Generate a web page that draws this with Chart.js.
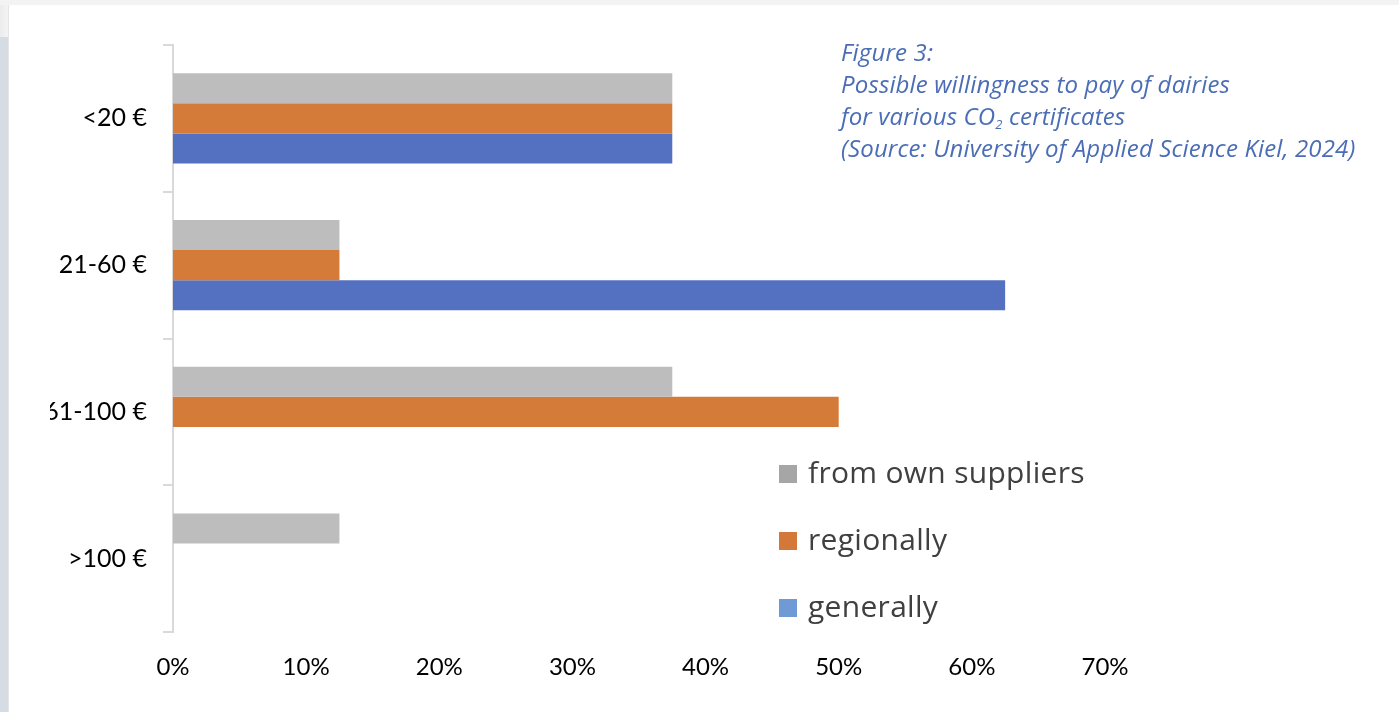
<!DOCTYPE html>
<html>
<head>
<meta charset="utf-8">
<script src="https://cdn.jsdelivr.net/npm/chart.js"></script>
<style>
  html, body { margin: 0; padding: 0; background: #fff; }
  body { width: 1399px; height: 712px; position: relative; overflow: hidden; }
  #topStrip { position: absolute; left: 0; top: 0; width: 1399px; height: 5px; background: #f3f3f3; }
  #leftTop { position: absolute; left: 0; top: 5px; width: 8px; height: 32px; background: linear-gradient(to right, #ececec, #f3f3f3); }
  #leftStrip { position: absolute; left: 0; top: 37px; width: 8px; height: 675px; background: #d6dce3; }
  #panelEdge { position: absolute; left: 8px; top: 5px; width: 1px; height: 707px; background: #e4e4e4; }
  #wrap { position: absolute; left: 50px; top: 0; width: 1115px; height: 712px; }
  #caption {
    position: absolute; left: 841px; top: 36px;
    font-family: "Open Sans", sans-serif; font-style: italic;
    font-size: 24px; letter-spacing: 0.15px; line-height: 32px; color: #4a6db5; white-space: nowrap;
  }
  #caption sub { font-size: 13px; vertical-align: -4px; line-height: 0; }
  #legend { position: absolute; left: 779px; top: 451px; font-family: "Open Sans", sans-serif; }
  .item { height: 67px; display: flex; align-items: flex-start; }
  .box { width: 18px; height: 18px; margin-top: 14px; margin-right: 11px; }
  .lbl { font-size: 30px; letter-spacing: 0.3px; color: #404040; line-height: 42px; }
</style>
</head>
<body>
<div id="topStrip"></div>
<div id="leftTop"></div>
<div id="leftStrip"></div>
<div id="panelEdge"></div>
<div id="wrap"><canvas id="myChart"></canvas></div>
<div id="caption">Figure 3:<br>Possible willingness to pay of dairies<br>for various CO<sub>2</sub> certificates<br>(Source: University of Applied Science Kiel, 2024)</div>
<div id="legend"></div>
<script>
const categories = ["<20 €", "21-60 €", "61-100 €", ">100 €"];
const seriesNames = ["from own suppliers", "regionally", "generally"];
const ownSuppliers = [37.5, 12.5, 37.5, 12.5];
const regionally = [37.5, 12.5, 50, 0];
const generally = [37.5, 62.5, 0, 0];
const xTicks = [0, 10, 20, 30, 40, 50, 60, 70];

const barColors = ["#bdbdbd", "#d57b3a", "#5470c1"];
const legendColors = ["#a6a6a6", "#d4783a", "#6f9ad6"];

const ctx = document.getElementById("myChart");

new Chart(ctx, {
    type: "bar",
    data: {
        labels: categories,
        datasets: [ownSuppliers, regionally, generally].map((values, i) => ({
            label: seriesNames[i],
            data: values,
            backgroundColor: barColors[i],
            borderWidth: 0,
            barPercentage: 1,
            categoryPercentage: 0.614,
        })),
    },
    options: {
        indexAxis: "y",
        responsive: true,
        maintainAspectRatio: false,
        animation: false,
        layout: { padding: { top: 45, right: 60, bottom: 0, left: 0 } },
        scales: {
            x: {
                min: 0,
                max: 70,
                afterBuildTicks: (axis) => {
                    axis.ticks = xTicks.map((v) => ({ value: v }));
                },
                afterFit: (axis) => {
                    axis.height = 80;
                },
                grid: { display: false, drawTicks: false },
                border: { display: false },
                ticks: {
                    padding: 21,
                    color: "#000",
                    font: { family: "Lato", size: 24 },
                    callback: (v) => v + "%",
                },
            },
            y: {
                afterFit: (axis) => {
                    axis.width = 123;
                },
                grid: {
                    display: true,
                    offset: true,
                    drawOnChartArea: false,
                    drawTicks: true,
                    tickLength: 10,
                    color: "#d9d9d9",
                    lineWidth: 2,
                },
                border: { display: true, color: "#d9d9d9", width: 2 },
                ticks: {
                    padding: 16,
                    color: "#000",
                    font: { family: "Lato", size: 25 },
                },
            },
        },
        plugins: {
            legend: { display: false },
            tooltip: { enabled: false },
        },
    },
});

const legend = document.getElementById("legend");
seriesNames.forEach((name, i) => {
    const item = document.createElement("div");
    item.className = "item";
    item.innerHTML = '<span class="box" style="background:' + legendColors[i] + '"></span><span class="lbl">' + name + "</span>";
    legend.appendChild(item);
});
</script>
</body>
</html>
